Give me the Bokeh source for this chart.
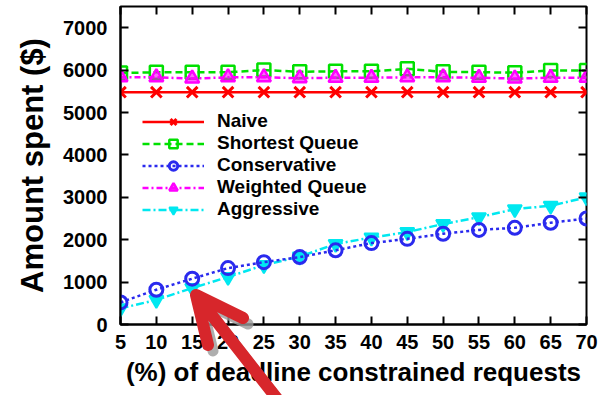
from bokeh.plotting import figure
from bokeh.models import LinearAxis, Range1d, Legend, LegendItem, FixedTicker, Div
from bokeh.layouts import column
from bokeh.embed import file_html
from bokeh.resources import INLINE

# Percentage of deadline-constrained requests
pct = [5, 10, 15, 20, 25, 30, 35, 40, 45, 50, 55, 60, 65, 70]

# Amount spent ($) per scheduling policy
naive = [5480, 5480, 5480, 5480, 5480, 5480, 5480, 5480, 5480, 5480, 5480, 5480, 5480, 5480]
shortest_queue = [5930, 5950, 5950, 5950, 6000, 5960, 5970, 5970, 6030, 5960, 5950, 5940, 5990, 5990]
conservative = [520, 820, 1080, 1330, 1470, 1590, 1750, 1920, 2020, 2140, 2230, 2280, 2400, 2500]
weighted_queue = [5830, 5830, 5800, 5830, 5830, 5810, 5820, 5820, 5830, 5830, 5820, 5800, 5820, 5820]
aggressive = [380, 580, 860, 1120, 1400, 1600, 1900, 2050, 2180, 2370, 2530, 2720, 2800, 3000]

x_ticks = pct
y_ticks = [0, 1000, 2000, 3000, 4000, 5000, 6000, 7000]

FONT = "Liberation Sans"

fig = figure(width=600, height=395, output_backend="svg", toolbar_location=None,
             x_range=Range1d(5, 70), y_range=Range1d(0, 7500),
             min_border_left=120, min_border_right=14, min_border_top=6,
             min_border_bottom=71, background_fill_color="white",
             border_fill_color="white")
fig.grid.visible = False
fig.outline_line_color = "black"
fig.outline_line_width = 2

# Main axes
for ax, ticks in ((fig.xaxis[0], x_ticks), (fig.yaxis[0], y_ticks)):
    ax.ticker = FixedTicker(ticks=ticks)
    ax.major_tick_in = 8
    ax.major_tick_out = 0
    ax.minor_tick_line_color = None
    ax.axis_line_width = 2
    ax.major_tick_line_width = 2
    ax.major_label_text_font = FONT
    ax.major_label_text_font_style = "bold"
    ax.major_label_text_font_size = "20px"
    ax.major_label_text_color = "black"
    ax.axis_label_text_font = FONT
    ax.axis_label_text_font_style = "bold"
    ax.axis_label_text_color = "black"

fig.xaxis[0].axis_label = "(%) of deadline constrained requests"
fig.yaxis[0].axis_label = "Amount spent ($)"
fig.xaxis[0].axis_label_text_font_size = "26px"
fig.yaxis[0].axis_label_text_font_size = "31px"
fig.xaxis[0].major_label_standoff = 10
fig.xaxis[0].axis_label_standoff = 5
fig.yaxis[0].major_label_standoff = 13
fig.yaxis[0].axis_label_standoff = 10

# Mirrored tick marks on the top and right edges (no labels)
top = LinearAxis(ticker=FixedTicker(ticks=x_ticks),
                 major_label_overrides={t: "" for t in x_ticks},
                 major_tick_in=8, major_tick_out=0, major_tick_line_width=2,
                 minor_tick_line_color=None, axis_line_color=None,
                 major_label_standoff=0)
right = LinearAxis(ticker=FixedTicker(ticks=y_ticks),
                   major_label_overrides={t: "" for t in y_ticks},
                   major_tick_in=8, major_tick_out=0, major_tick_line_width=2,
                   minor_tick_line_color=None, axis_line_color=None,
                   major_label_standoff=0)
fig.add_layout(top, "above")
fig.add_layout(right, "right")

LW = 2.5
r_naive_l = fig.line(pct, naive, line_color="#ff0000", line_width=LW)
r_naive_m = fig.scatter(pct, naive, marker="x", size=15, line_color="#ff0000", line_width=3)

r_sq_l = fig.line(pct, shortest_queue, line_color="#00e000", line_width=LW, line_dash="7 4")
r_sq_m = fig.scatter(pct, shortest_queue, marker="square", size=13, line_color="#00e000",
                     fill_color=None, line_width=2.5)

r_wq_l = fig.line(pct, weighted_queue, line_color="#ff00ff", line_width=LW, line_dash="6 3 2 3")
r_wq_m = fig.scatter(pct, weighted_queue, marker="triangle", size=14, line_color="#ff00ff",
                     fill_color="#ff00ff", fill_alpha=0.6, line_width=2.5)

r_ag_l = fig.line(pct, aggressive, line_color="#00e8f0", line_width=LW, line_dash="8 3 2 3")
r_ag_m = fig.scatter(pct, aggressive, marker="inverted_triangle", size=14, line_color="#00e8f0",
                     fill_color="#00e8f0", line_width=2)

r_co_l = fig.line(pct, conservative, line_color="#2a2aee", line_width=LW, line_dash="3 3")
r_co_m = fig.scatter(pct, conservative, marker="circle", size=13, line_color="#2a2aee",
                     fill_color=None, line_width=3)

legend = Legend(items=[
    LegendItem(label="Naive", renderers=[r_naive_l, r_naive_m]),
    LegendItem(label="Shortest Queue", renderers=[r_sq_l, r_sq_m]),
    LegendItem(label="Conservative", renderers=[r_co_l, r_co_m]),
    LegendItem(label="Weighted Queue", renderers=[r_wq_l, r_wq_m]),
    LegendItem(label="Aggressive", renderers=[r_ag_l, r_ag_m]),
], location=(22, 104), border_line_color=None, background_fill_alpha=0,
    label_text_font=FONT, label_text_font_style="bold", label_text_font_size="19px",
    label_text_color="black",
    glyph_width=62, glyph_height=21, label_height=21, spacing=0, padding=0,
    label_standoff=13, margin=0)
fig.add_layout(legend)

# Red callout arrow (with grey drop shadow) pointing at the crossover near 15%,
# laid over the whole canvas so it can run across the x-axis labels.
arrow_svg = """
<svg width="600" height="395" xmlns="http://www.w3.org/2000/svg"
     style="position:absolute;left:0;top:0;pointer-events:none;overflow:visible">
  <g fill="none" stroke-linecap="round" stroke-linejoin="round">
    <path d="M203,340 L191,290 L238,313 M191,290 L320,455"
          stroke="#9a9a9a" stroke-opacity="0.8" stroke-width="11"
          transform="translate(5,6)"/>
    <path d="M203,340 L191,290 L238,313 M191,290 L320,455"
          stroke="#d7262b" stroke-width="12"/>
  </g>
</svg>
"""
overlay = Div(text=arrow_svg, width=600, height=0,
              styles={"position": "absolute", "left": "0px", "top": "0px",
                      "z-index": "10", "pointer-events": "none",
                      "overflow": "visible"})

p = column(fig, overlay, spacing=0)

open("out.html", "w").write(file_html(p, INLINE))
